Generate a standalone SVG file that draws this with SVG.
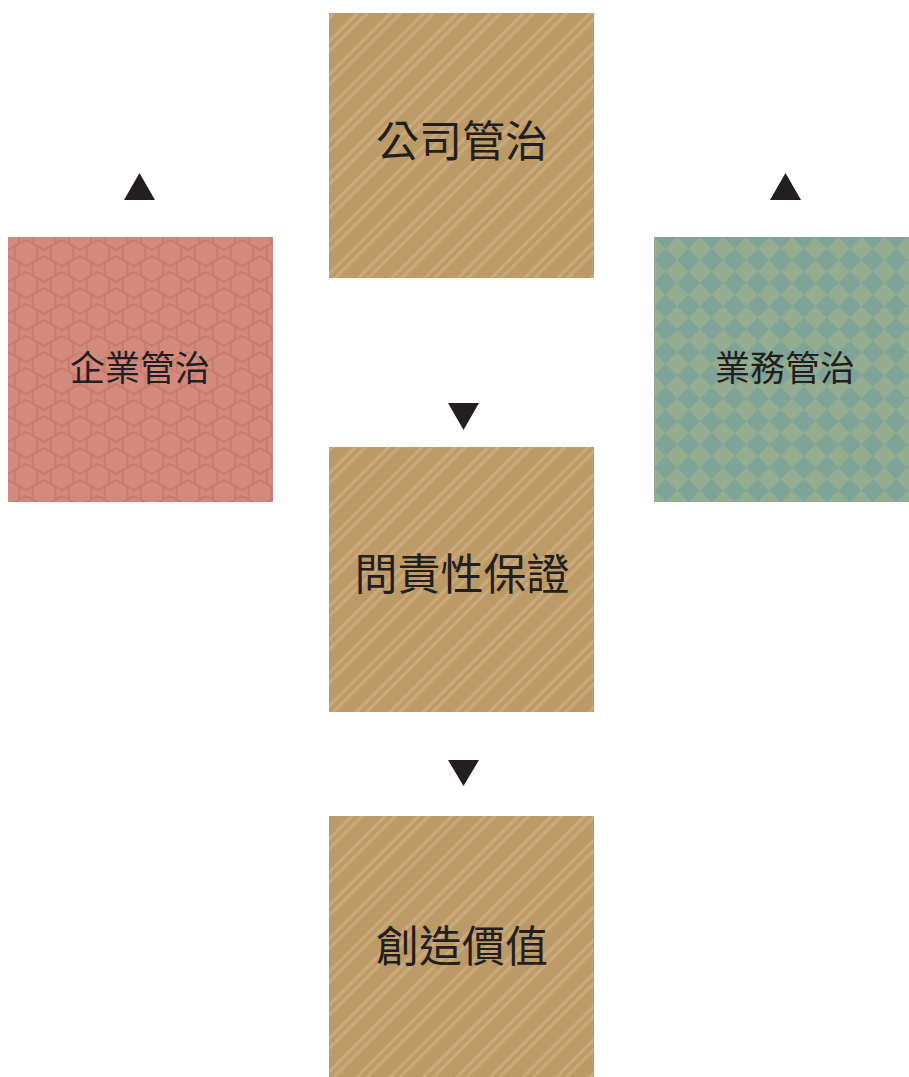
<svg xmlns="http://www.w3.org/2000/svg" width="909" height="1077" viewBox="0 0 909 1077">
  <style>
    .lbl { font-family: "Noto Sans CJK TC", "Noto Sans CJK SC", "Liberation Sans", sans-serif; fill: #231f20; text-anchor: middle; }
    .big { font-size: 43px; }
    .small { font-size: 35px; }
    .arrow { fill: #231f20; }
  </style>
  <defs>
    <pattern id="stripes" patternUnits="userSpaceOnUse" width="23.5" height="20" patternTransform="rotate(45)">
      <rect x="0" y="0" width="23.5" height="20" fill="#bc9a66"/>
      <rect x="2" y="0" width="3.2" height="20" fill="#c9a87a"/>
      <rect x="9" y="0" width="3.2" height="20" fill="#c9a87a"/>
    </pattern>
    <pattern id="hex" patternUnits="userSpaceOnUse" width="36" height="32" x="8" y="237">
      <rect width="36" height="32" fill="#d38a7d"/>
      <g fill="none" stroke="#c67c71" stroke-width="2">
        <polygon id="hx" points="0,-13 11.3,-6.5 11.3,6.5 0,13 -11.3,6.5 -11.3,-6.5"/>
        <use href="#hx" x="36" y="0"/>
        <use href="#hx" x="0" y="32"/>
        <use href="#hx" x="36" y="32"/>
        <use href="#hx" x="18" y="16"/>
      </g>
    </pattern>
    <pattern id="diamond" patternUnits="userSpaceOnUse" width="32.6" height="32.6" patternTransform="translate(654,237) rotate(45)">
      <rect width="32.6" height="32.6" fill="#7fa396"/>
      <rect width="16.3" height="16.3" fill="#94ad90"/>
      <rect x="16.3" y="16.3" width="16.3" height="16.3" fill="#94ad90"/>
    </pattern>
  </defs>

  <g id="node-company">
    <rect x="329" y="13" width="265" height="265" fill="url(#stripes)"/>
    <text class="lbl big" x="462" y="157">公司管治</text>
  </g>
  <g id="node-enterprise">
    <rect x="8" y="237" width="265" height="265" fill="url(#hex)"/>
    <text class="lbl small" x="140" y="381">企業管治</text>
  </g>
  <g id="node-business">
    <rect x="654" y="237" width="255" height="265" fill="url(#diamond)"/>
    <text class="lbl small" x="785" y="381">業務管治</text>
  </g>
  <g id="node-accountability">
    <rect x="329" y="447" width="265" height="265" fill="url(#stripes)"/>
    <text class="lbl big" x="462" y="590">問責性保證</text>
  </g>
  <g id="node-value">
    <rect x="329" y="816" width="265" height="261" fill="url(#stripes)"/>
    <text class="lbl big" x="462" y="962">創造價值</text>
  </g>

  <g id="connectors">
    <polygon class="arrow" points="124,200 155,200 139.5,173"/>
    <polygon class="arrow" points="770,200 801,200 785.5,173"/>
    <polygon class="arrow" points="448,403 479,403 463.5,430"/>
    <polygon class="arrow" points="448,760 479,760 463.5,786"/>
  </g>
</svg>
